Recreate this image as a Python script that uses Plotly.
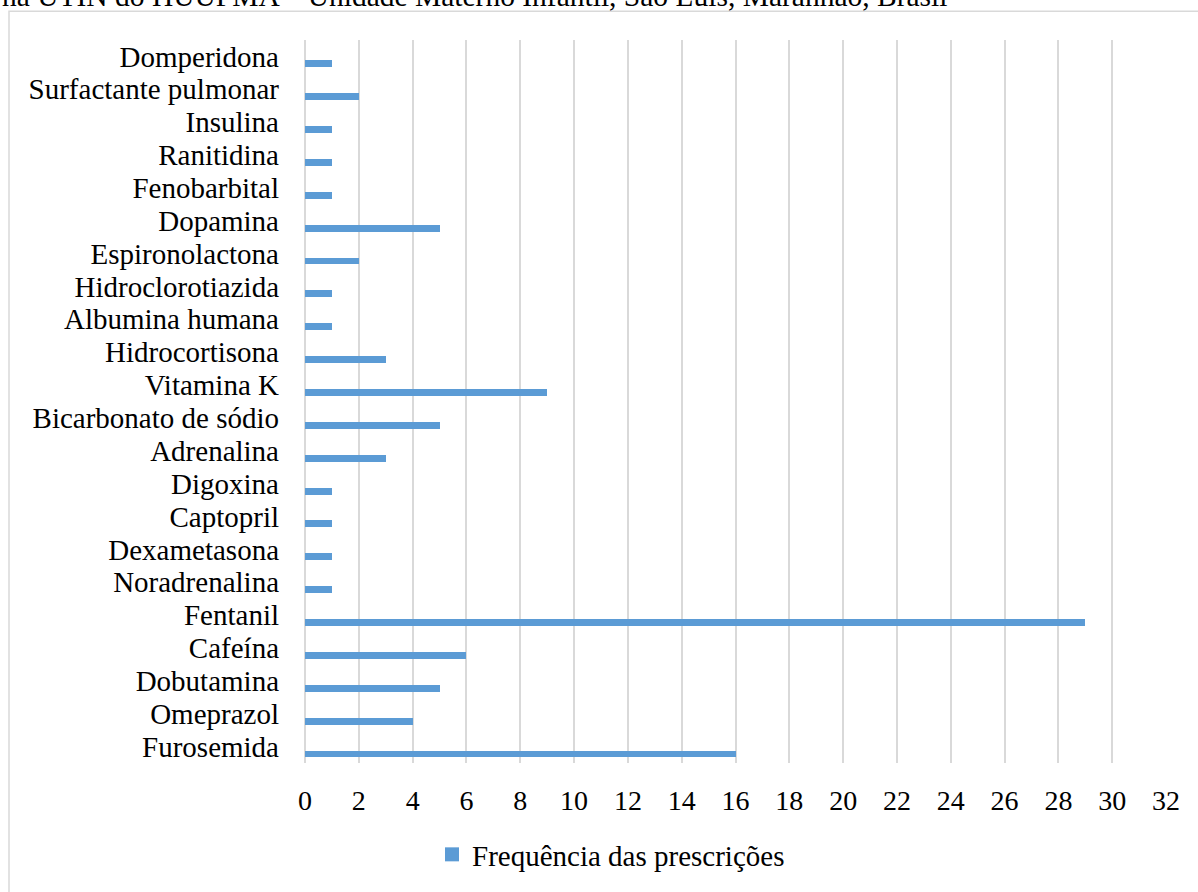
import plotly.graph_objects as go

# Medicamentos (de baixo para cima) e número de prescrições
medicamentos = [
    "Furosemida", "Omeprazol", "Dobutamina", "Cafeína", "Fentanil",
    "Noradrenalina", "Dexametasona", "Captopril", "Digoxina", "Adrenalina",
    "Bicarbonato de sódio", "Vitamina K", "Hidrocortisona", "Albumina humana",
    "Hidroclorotiazida", "Espironolactona", "Dopamina", "Fenobarbital",
    "Ranitidina", "Insulina", "Surfactante pulmonar", "Domperidona",
]
frequencia = [16, 4, 5, 6, 29, 1, 1, 1, 1, 3, 5, 9, 3, 1, 1, 2, 5, 1, 1, 1, 2, 1]
x_ticks = list(range(0, 33, 2))

titulo = "na UTIN do HUUFMA – Unidade Materno Infantil, São Luís, Maranhão, Brasil"
serie = "Frequência das prescrições"

FONT = "Liberation Serif, Times New Roman, serif"
BLUE = "#5b9bd5"
GRID = "#d9d9d9"
W, H = 1198, 892
L, R, T, B = 305, 1166, 40, 767  # plot-area pixel box


def px(xp):
    return (xp - L) / (R - L)


def py(yp):
    return (B - yp) / (B - T)


fig = go.Figure()
fig.add_trace(go.Bar(
    x=frequencia,
    y=medicamentos,
    orientation="h",
    name=serie,
    marker=dict(color=BLUE, line=dict(width=0)),
    width=0.21,
    offset=-0.33,
    showlegend=False,
))
# legend key drawn as a larger square swatch
fig.add_trace(go.Scatter(
    x=[None], y=[None],
    mode="markers",
    name=serie,
    marker=dict(symbol="square", size=14, color=BLUE),
    showlegend=True,
    hoverinfo="skip",
))

fig.update_layout(
    width=W, height=H,
    margin=dict(l=L, r=W - R, t=T, b=H - B),
    paper_bgcolor="white",
    plot_bgcolor="white",
    font=dict(family=FONT, size=29, color="black"),
    xaxis=dict(
        range=[0, 32],
        tickmode="array",
        tickvals=x_ticks,
        ticktext=[str(v) for v in x_ticks],
        showgrid=True,
        gridcolor=GRID,
        gridwidth=2,
        zeroline=True,
        zerolinecolor=GRID,
        zerolinewidth=2,
        showline=False,
        ticks="",
        ticklabelstandoff=18,
        tickfont=dict(family=FONT, size=28, color="black"),
        fixedrange=True,
    ),
    yaxis=dict(
        type="category",
        categoryorder="array",
        categoryarray=medicamentos,
        tickmode="array",
        tickvals=medicamentos,
        ticktext=medicamentos,
        range=[-0.5, len(medicamentos) - 0.5],
        showgrid=False,
        showline=False,
        zeroline=False,
        ticks="",
        ticklabelstandoff=25,
        tickfont=dict(family=FONT, size=29, color="black"),
        fixedrange=True,
    ),
    legend=dict(
        orientation="h",
        x=px(432), xanchor="left",
        y=py(859), yanchor="middle",
        font=dict(family=FONT, size=29, color="black"),
        bgcolor="rgba(0,0,0,0)",
        itemwidth=30,
    ),
    bargap=0,
    shapes=[
        dict(
            type="rect", xref="paper", yref="paper",
            x0=px(9), x1=px(1205), y0=py(905), y1=py(11),
            line=dict(color=GRID, width=1.5),
            fillcolor="rgba(0,0,0,0)",
            layer="below",
        )
    ],
    annotations=[
        dict(
            text=titulo,
            xref="paper", yref="paper",
            x=px(0), xanchor="left",
            y=py(14), yanchor="bottom",
            showarrow=False,
            font=dict(family=FONT, size=29.5, color="black"),
        )
    ],
)

fig.write_html("out.html")
